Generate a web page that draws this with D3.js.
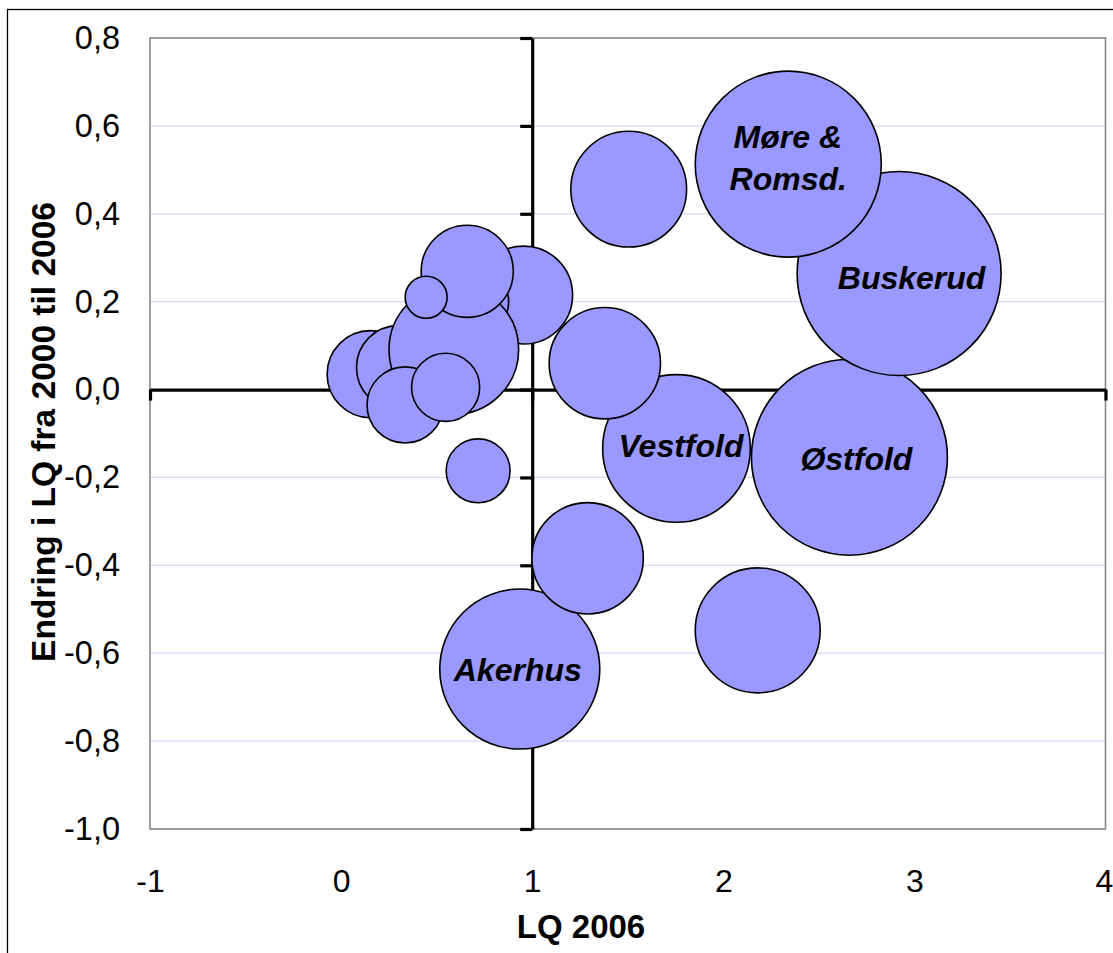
<!DOCTYPE html>
<html>
<head>
<meta charset="utf-8">
<script src="https://cdn.jsdelivr.net/npm/d3@7"></script>
<style>
  html, body { margin: 0; padding: 0; background: #fff; }
  svg { display: block; }
  text { font-family: "Liberation Sans", Arial, sans-serif; }
</style>
</head>
<body>
<svg id="chart" width="1113" height="953"></svg>
<script>
// ---- data (drawing order) ----
const names   = ["Østfold","Buskerud","Møre & Romsd.","Vestfold","","Akerhus","","","","","","","","","","","","",""];
const lq2006  = [2.66, 2.92, 2.34, 1.755, 1.38, 0.935, 1.29, 2.18, 1.505, 0.155, 0.30, 0.955, 0.72, 0.59, 0.66, 0.445, 0.335, 0.547, 0.717];
const change  = [-0.154, 0.264, 0.513, -0.134, 0.06, -0.636, -0.384, -0.548, 0.456, 0.035, 0.05, 0.215, 0.20, 0.091, 0.269, 0.21, -0.035, 0.005, -0.185];
const sizes   = [9.6, 10.4, 8.65, 5.45, 3.1, 6.4, 3.1, 3.9, 3.35, 1.9, 1.76, 2.4, 0.9, 4.2, 2.12, 0.44, 1.45, 1.16, 1.02];

const xTicks = [-1, 0, 1, 2, 3, 4];
const yTicks = [0.8, 0.6, 0.4, 0.2, 0.0, -0.2, -0.4, -0.6, -0.8, -1.0];
const xTitle = "LQ 2006";
const yTitle = "Endring i LQ fra 2000 til 2006";

// ---- layout ----
const svg = d3.select("#chart");
const L = 150, R = 1105.5, T = 38, B = 829;
const x = d3.scaleLinear().domain([-1, 4]).range([L, R]);
const y = d3.scaleLinear().domain([-1, 0.8]).range([B, T]);
const r = d3.scaleSqrt().domain([0, 10.4]).range([0, 102]);
const fixMinus = s => s.replace(/\u2212/g, "-");
const fmtY = v => fixMinus(d3.format(".1f")(v)).replace(".", ",");
const fmtX = v => fixMinus(d3.format("d")(v));

// label offsets (px) relative to bubble centre
const labelOffsets = {
  "Østfold": [7, 12.5], "Buskerud": [12.5, 15], "Vestfold": [4.5, 9],
  "Akerhus": [-2, 12]
};

// outer frame
svg.append("rect").attr("x", 7.5).attr("y", 9.5).attr("width", 1200).attr("height", 1000)
  .attr("fill", "none").attr("stroke", "#000").attr("stroke-width", 1.3);

// gridlines
svg.append("g").selectAll("line").data(yTicks).join("line")
  .attr("x1", L).attr("x2", R).attr("y1", d => y(d)).attr("y2", d => y(d))
  .attr("stroke", "#d6d6f6").attr("stroke-width", 1.2);

// plot border
svg.append("rect").attr("x", L).attr("y", T).attr("width", R - L).attr("height", B - T)
  .attr("fill", "none").attr("stroke", "#888").attr("stroke-width", 1.6);

// crossing axes (at x=1, y=0)
const yAxis = svg.append("g").attr("transform", `translate(${x(1)},0)`)
  .call(d3.axisLeft(y).tickValues(yTicks).tickSize(12).tickSizeOuter(0).tickFormat(""));
const xAxis = svg.append("g").attr("transform", `translate(0,${y(0)})`)
  .call(d3.axisBottom(x).tickValues(xTicks).tickSize(11).tickSizeOuter(0).tickFormat(""));
[yAxis, xAxis].forEach(g => {
  g.select(".domain").attr("stroke", "#000").attr("stroke-width", 3.2);
  g.selectAll(".tick line").attr("stroke", "#000").attr("stroke-width", 3.2);
});

// tick labels (low position)
const yLab = svg.append("g").attr("transform", `translate(120,0)`)
  .call(d3.axisLeft(y).tickValues(yTicks).tickSize(0).tickPadding(0).tickFormat(fmtY));
yLab.select(".domain").remove();
yLab.selectAll("text").attr("font-size", 32.5).attr("fill", "#000")
  .attr("font-family", "'Liberation Sans', Arial, sans-serif");

const xLab = svg.append("g").attr("transform", `translate(0,869)`)
  .call(d3.axisBottom(x).tickValues(xTicks).tickSize(0).tickPadding(0).tickFormat(fmtX));
xLab.select(".domain").remove();
xLab.selectAll("text").attr("font-size", 32).attr("fill", "#000")
  .attr("font-family", "'Liberation Sans', Arial, sans-serif")
  .attr("dx", d => d === 4 ? -1.5 : 0);

// titles
svg.append("text").attr("x", 581).attr("y", 938).attr("text-anchor", "middle")
  .attr("font-size", 33).attr("font-weight", "bold").text(xTitle);
svg.append("text").attr("transform", "translate(55,432) rotate(-90)").attr("text-anchor", "middle")
  .attr("font-size", 33.5).attr("font-weight", "bold").text(yTitle);

// bubbles
const data = names.map((n, i) => ({ name: n, x: lq2006[i], y: change[i], s: sizes[i] }));
svg.append("g").selectAll("circle").data(data).join("circle")
  .attr("cx", d => x(d.x)).attr("cy", d => y(d.y)).attr("r", d => r(d.s))
  .attr("fill", "#9999ff").attr("stroke", "#000").attr("stroke-width", 1.6);

// labels
const lab = svg.append("g").attr("font-size", 32).attr("font-weight", "bold")
  .attr("font-style", "italic").attr("text-anchor", "middle").attr("fill", "#000");
data.filter(d => d.name).forEach(d => {
  const cx = x(d.x), cy = y(d.y);
  if (d.name === "Møre & Romsd.") {
    lab.append("text").attr("x", cx - 0.5).attr("y", cy - 16).text("Møre &");
    lab.append("text").attr("x", cx).attr("y", cy + 26).text("Romsd.");
  } else {
    const o = labelOffsets[d.name] || [0, 11];
    lab.append("text").attr("x", cx + o[0]).attr("y", cy + o[1]).text(d.name);
  }
});
</script>
</body>
</html>
